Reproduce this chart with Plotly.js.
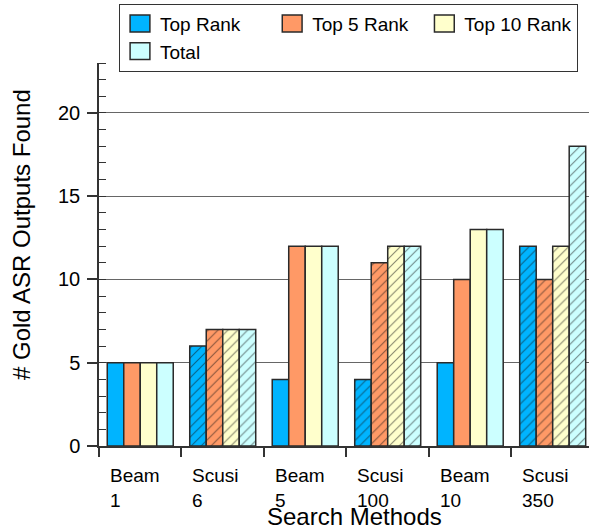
<!DOCTYPE html>
<html>
<head>
<meta charset="utf-8">
<script src="https://cdn.plot.ly/plotly-3.0.1.min.js"></script>
<style>
  html, body { margin: 0; padding: 0; background: #fff; }
  #chart { width: 589px; height: 531px; }
</style>
</head>
<body>
<div id="chart"></div>
<script>
// Search methods (name + parameter) shown on the x axis
const methodNames  = ['Beam', 'Scusi', 'Beam', 'Scusi', 'Beam', 'Scusi'];
const methodParams = ['1', '6', '5', '100', '10', '350'];

// Number of gold ASR outputs found per method
const seriesNames = ['Top Rank', 'Top 5 Rank', 'Top 10 Rank', 'Total'];
const topRank   = [5, 6, 4, 4, 5, 12];
const top5Rank  = [5, 7, 12, 11, 10, 10];
const top10Rank = [5, 7, 12, 12, 13, 12];
const totalFound = [5, 7, 12, 12, 13, 18];

const seriesColors = ['#00b4ff', '#ff9966', '#ffffcc', '#ccffff'];

const FONT = '"Liberation Sans", Arial, Helvetica, sans-serif';

const categories = methodNames.map((n, i) => n + ' ' + methodParams[i]);
// Scusi runs are drawn hatched
const hatch = methodNames.map(n => (n === 'Scusi' ? '/' : ''));
const seriesValues = [topRank, top5Rank, top10Rank, totalFound];

const traces = seriesValues.map((vals, k) => ({
  type: 'bar',
  name: seriesNames[k],
  x: categories,
  y: vals,
  marker: {
    color: seriesColors[k],
    line: { color: '#2a2a2a', width: 1.5 },
    pattern: { shape: hatch, fillmode: 'overlay', fgcolor: '#111', size: 7, solidity: 0.16 }
  },
  hovertemplate: '%{x}: %{y}<extra>' + seriesNames[k] + '</extra>'
}));

// Two-line, left-aligned category labels under each group
const categoryLabels = methodNames.map((n, i) => ({
  xref: 'x', yref: 'paper',
  x: i - 0.5, y: -0.047,
  xanchor: 'left', yanchor: 'top', xshift: 10,
  align: 'left', showarrow: false, borderpad: 0,
  text: n + '<br>' + methodParams[i],
  font: { family: FONT, size: 19, color: '#000' }
}));

const titles = [
  {
    xref: 'paper', yref: 'paper', x: 0.522, y: -0.221,
    xanchor: 'center', yanchor: 'bottom', showarrow: false, borderpad: 0,
    text: 'Search Methods',
    font: { family: FONT, size: 24, color: '#000' }
  },
  {
    xref: 'paper', yref: 'paper', x: -0.157, y: 0.551,
    xanchor: 'center', yanchor: 'middle', showarrow: false, textangle: -90,
    text: '# Gold ASR Outputs Found',
    font: { family: FONT, size: 24, color: '#000' }
  }
];

const layout = {
  width: 589, height: 531,
  margin: { l: 99, r: 0, t: 63, b: 85 },
  paper_bgcolor: '#fff', plot_bgcolor: '#fff',
  font: { family: FONT, size: 19, color: '#000' },
  barmode: 'group', bargap: 0.2, bargroupgap: 0,
  showlegend: true,
  legend: {
    orientation: 'h', traceorder: 'normal',
    x: 0.0408, xanchor: 'left', y: 1.155, yanchor: 'top',
    bordercolor: '#333', borderwidth: 1, bgcolor: '#fff',
    font: { family: FONT, size: 19, color: '#000' }
  },
  xaxis: {
    type: 'category', range: [-0.5, 5.44],
    tickson: 'boundaries', ticks: 'outside', ticklen: 9, tickwidth: 1.5, tickcolor: '#333',
    showticklabels: false,
    showline: true, linecolor: '#333', linewidth: 1.5,
    showgrid: false, zeroline: false
  },
  yaxis: {
    range: [0, 23], tick0: 0, dtick: 5,
    ticks: 'outside', ticklen: 10, tickwidth: 1.5, tickcolor: '#333',
    tickfont: { family: FONT, size: 20, color: '#000' },
    ticklabelstandoff: 3,
    showline: true, linecolor: '#333', linewidth: 1.5,
    showgrid: true, gridcolor: '#666', gridwidth: 1, zeroline: false,
    minor: { dtick: 1, ticks: 'inside', ticklen: 7, tickwidth: 1, tickcolor: '#333', showgrid: false }
  },
  // inner half of the major ticks
  yaxis2: {
    overlaying: 'y', anchor: 'x', side: 'left', range: [0, 23], tick0: 0, dtick: 5,
    ticks: 'inside', ticklen: 9, tickwidth: 1.5, tickcolor: '#333',
    showticklabels: false, showgrid: false, zeroline: false, showline: false
  },
  annotations: categoryLabels.concat(titles)
};

Plotly.newPlot('chart', traces, layout, { displayModeBar: false }).then(gd => {
  // larger legend swatches
  gd.querySelectorAll('.legend .legendpoints path').forEach(p => {
    const t = p.getAttribute('transform') || '';
    p.setAttribute('transform', t + ' scale(1.65,1.4)');
    p.setAttribute('vector-effect', 'non-scaling-stroke');
  });
});
</script>
</body>
</html>
